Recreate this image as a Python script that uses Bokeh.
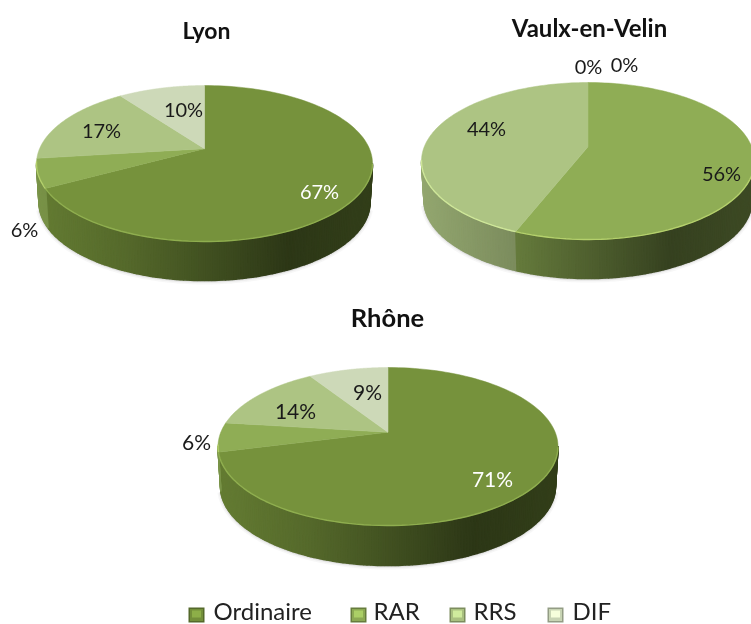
import numpy as np
from bokeh.plotting import figure
from bokeh.embed import file_html
from bokeh.resources import INLINE
from bokeh.models import Range1d
from bokeh.core.properties import value

categories = ["Ordinaire", "RAR", "RRS", "DIF"]
pie_titles = ["Lyon", "Vaulx-en-Velin", "Rhône"]
lyon = [67, 6, 17, 10]
vaulx = [0, 56, 44, 0]
rhone = [71, 6, 14, 9]
colors = ["#76923c", "#8fad55", "#adc483", "#cdd9b8"]
rims = ["#8fae4f", "#b4d06c", "#cfe79a", "#dce8c8"]

W, H = 751, 624
FONT = "Lato"
BOTTOM_SCALE = 0.985
p = figure(width=W, height=H, x_range=Range1d(0, W), y_range=Range1d(H, 0),
           toolbar_location=None, output_backend="svg", min_border=0,
           outline_line_color=None, background_fill_color="white",
           border_fill_color="white")
p.styles = {"position": "fixed", "left": "0px", "top": "0px"}
p.axis.visible = False
p.grid.visible = False


def hexrgb(c):
    return np.array([int(c[i:i + 2], 16) for i in (1, 3, 5)], float)


def shade(c, s):
    r = np.clip(hexrgb(c) * s, 0, 255).astype(int)
    return "#%02x%02x%02x" % tuple(r)


def project(theta_deg, g):
    t = np.radians(theta_deg)
    u, v = np.sin(t), np.cos(t)
    a = g["a"]
    d = 1 + a * v
    uu = u * np.sqrt(1 - a * a) / d
    vv = (v + a) / d
    return g["cx"] + g["rx"] * uu, g["cy"] - g["ry"] * vv


def bottom_x(x, g):
    return g["cx"] + (x - g["cx"]) * BOTTOM_SCALE


def draw_pie(vals, g):
    edges = np.cumsum([0] + vals) / sum(vals) * 360
    th = np.arange(60, 300.5, 2)
    x, y = project(th, g)
    for w, al in ((7, 0.05), (4, 0.08), (2, 0.12)):
        mask = y > g["cy"] + 5
        p.line(bottom_x(x[mask], g), y[mask] + g["depth"] + 0.5, line_color="#606060",
               line_width=w, line_alpha=al)
    xs, ys, cols = [], [], []
    step = 1.0
    for t0 in np.arange(0, 360, step):
        mid = t0 + step / 2
        k = int(np.searchsorted(edges, mid, side="right") - 1)
        k = min(k, len(vals) - 1)
        x0, y0 = project(t0, g)
        x1, y1 = project(t0 + step, g)
        if (y0 + y1) / 2 < g["cy"]:
            continue
        f = ((x0 + x1) / 2 - (g["cx"] - g["rx"])) / (2 * g["rx"])
        s = float(np.interp(f, [0, 0.27, 0.75, 1], [0.85, 0.72, 0.38, 0.43]))
        xs.append([x0, x1, bottom_x(x1, g), bottom_x(x0, g)])
        ys.append([y0, y1, y1 + g["depth"], y0 + g["depth"]])
        cols.append(shade(colors[k], s))
    p.patches(xs, ys, fill_color=cols, line_color=cols, line_width=1.6)
    ax, ay = g["cx"], g["cy"] - g["a"] * g["ry"]
    for k, v in enumerate(vals):
        if v == 0:
            continue
        th = np.linspace(edges[k], edges[k + 1], 120)
        x, y = project(th, g)
        p.patch(np.r_[ax, x], np.r_[ay, y], fill_color=colors[k], line_color=colors[k], line_width=0.5)
        m = y > g["cy"] - 2
        if m.any():
            p.line(x[m], y[m], line_color=rims[k], line_width=1.4)


geoms = [
    dict(cx=204, cy=163, rx=168, ry=78, a=0.19, depth=39),
    dict(cx=587.5, cy=160.5, rx=166.5, ry=78.5, a=0.18, depth=39),
    dict(cx=387.5, cy=446, rx=170, ry=79, a=0.18, depth=40),
]
series = [lyon, vaulx, rhone]
for vals, g in zip(series, geoms):
    draw_pie(vals, g)

title_x = [206, 589, 387]
title_y = [29, 27, 316]
title_size = ["23px", "24px", "25.5px"]
for tx, ty, ts, tt in zip(title_x, title_y, title_size, pie_titles):
    p.text([tx], [ty], text=[tt], text_font=value(FONT), text_font_style="bold",
           text_font_size=ts, text_align="center", text_baseline="middle", text_color="#111111")

lab_x = [[319, 24, 101, 183], [624, 721, 486, 588], [492, 196, 295, 367]]
lab_y = [[190, 228, 129, 108], [63, 172, 127, 65], [478, 441, 410, 391]]
lab_col = [["#ffffff", "#1a1a1a", "#1a1a1a", "#1a1a1a"],
           ["#1a1a1a"] * 4,
           ["#ffffff", "#1a1a1a", "#1a1a1a", "#1a1a1a"]]
lab_size = ["20px", "20px", "21px"]
for vals, lx, ly, lc, ls in zip(series, lab_x, lab_y, lab_col, lab_size):
    p.text(lx, ly, text=[f"{v}%" for v in vals], text_font=value(FONT), text_font_size=ls,
           text_align="center", text_baseline="middle", text_color=lc)

leg_x = [188, 350, 449, 547]
leg_tx = [213, 373, 473, 572]
leg_y = 614.5
for c, mx, tx, name in zip(colors, leg_x, leg_tx, categories):
    p.rect([mx + 8], [leg_y], width=16, height=15, fill_color=shade(c, 0.72), line_color=None)
    p.rect([mx + 8], [leg_y], width=13, height=12, fill_color=shade(c, 0.98), line_color=None)
    p.rect([mx + 8], [leg_y - 1], width=9, height=7, fill_color=shade(c, 1.2), line_color=None)
    p.text([tx], [610], text=[name], text_font=value(FONT), text_font_size="24px",
           text_baseline="middle", text_color="#222222")

open("out.html", "w").write(file_html(p, INLINE))
